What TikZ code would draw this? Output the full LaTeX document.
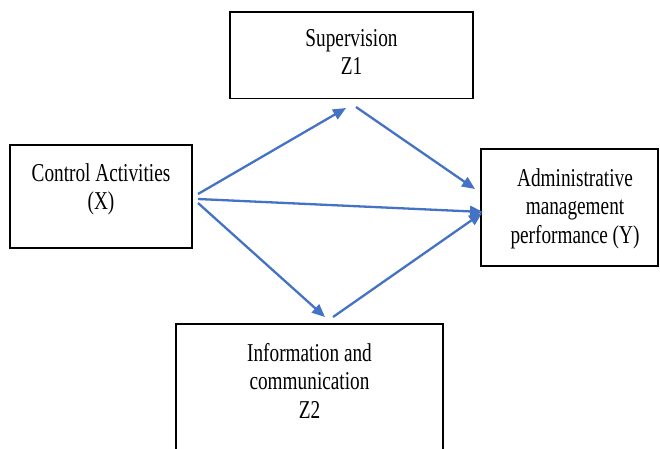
\documentclass[tikz,border=0pt]{standalone}
\usepackage{fontspec}
\setmainfont{Liberation Serif}[FakeStretch=0.75]
\usetikzlibrary{arrows.meta}
\definecolor{arrowblue}{HTML}{4472C4}
\begin{document}
\begin{tikzpicture}[x=1pt,y=-1pt,
  box/.style={draw=black, line width=1.6pt, inner sep=0pt},
  lbl/.style={anchor=north, align=center, inner sep=0pt, font=\fontsize{25.7}{28.5}\selectfont},
  link/.style={draw=arrowblue, line width=2.3pt, -{Triangle[length=13pt,width=11pt]}}]
\useasboundingbox (0,0) rectangle (660,448);
% boxes
\node[box, minimum width=243pt, minimum height=86.5pt] (sup) at (351.75,55.25) {};
\node[box, minimum width=182pt, minimum height=103pt] (ctrl) at (101,196.5) {};
\node[box, minimum width=177pt, minimum height=117pt] (adm) at (569.5,207.5) {};
\node[box, minimum width=267pt, minimum height=156pt] (inf) at (309.5,402) {};
% labels
\node[lbl] (supT) at (351.5,29) {Supervision\\Z1};
\node[lbl] (ctrlT) at (101,163) {Control Activities\\(X)};
\node[lbl] (admT) at (575,168) {Administrative\\management\\performance (Y)};
\node[lbl] (infT) at (309.5,343) {Information and\\communication\\Z2};
% connector end points
\coordinate (c1) at (198,194);
\coordinate (s1) at (346,108);
\coordinate (s2) at (356,107);
\coordinate (a1) at (475,189);
\coordinate (c2) at (198,199);
\coordinate (a2) at (483,212);
\coordinate (c3) at (198,203);
\coordinate (i1) at (325,317);
\coordinate (i2) at (333,317);
\coordinate (a3) at (482,213);
% connectors
\draw[link] (c1) -- (s1);
\draw[link] (s2) -- (a1);
\draw[link] (c2) -- (a2);
\draw[link] (c3) -- (i1);
\draw[link] (i2) -- (a3);
\end{tikzpicture}
\end{document}
